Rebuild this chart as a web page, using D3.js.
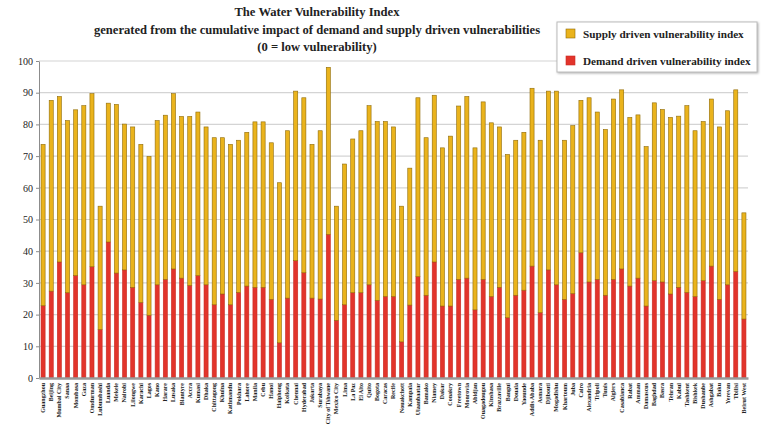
<!DOCTYPE html>
<html>
<head>
<meta charset="utf-8">
<script src="https://cdn.jsdelivr.net/npm/d3@7"></script>
<style>
  body { margin: 0; background: #fff; }
  text { font-family: "Liberation Serif", "Times New Roman", serif; }
</style>
</head>
<body>
<div id="chart"></div>
<script>
var cities = ["Guangzhou","Beijing","Mumbai City","Sanaa","Mombasa","Gaza","Omdurman","Lubumbashi","Luanda","Mekele",
  "Nairobi","Lilongwe","Karachi","Lagos","Kano","Harare","Lusaka","Blantyre","Accra","Kumasi",
  "Dhaka","Chittagong","Khulna","Kathmandu","Pokhara","Lahore","Manila","Cebu","Hanoi","Haiphong",
  "Kolkata","Chennai","Hyderabad","Jakarta","Surabaya","City of Tshwane","Mexico City","Lima","La Paz","El Alto",
  "Quito","Bogota","Caracas","Recife","Nouakchott","Kampala","Ulaanbaatar","Bamako","Niamey","Dakar",
  "Conakry","Freetown","Monrovia","Abidjan","Ouagadougou","Kinshasa","Brazzaville","Bangui","Douala","Yaounde",
  "Addis Ababa","Asmara","Djibouti","Mogadishu","Khartoum","Juba","Cairo","Alexandria","Tripoli","Tunis",
  "Algiers","Casablanca","Rabat","Amman","Damascus","Baghdad","Basra","Tehran","Kabul","Tashkent",
  "Bishkek","Dushanbe","Ashgabat","Baku","Yerevan","Tbilisi","Beirut West"];

var demand = [22.8,27.4,36.6,26.9,32.3,29.4,35.1,15.3,42.9,33.1,34.1,28.6,23.8,19.8,29.4,31.1,34.4,31.5,29.2,32.3,
  29.4,23.1,26.5,23.1,27.0,29.0,28.6,28.6,24.8,11.1,25.2,37.0,33.2,25.2,24.9,45.3,18.2,23.1,26.9,26.9,
  29.4,24.5,25.7,25.7,11.4,23.0,32.0,26.1,36.6,22.7,22.7,31.1,31.5,21.5,31.1,25.7,28.6,19.0,26.1,27.7,
  35.3,20.6,34.1,29.4,24.8,26.6,39.5,30.3,31.1,26.1,31.1,34.4,29.0,31.5,22.7,30.7,30.3,26.5,28.6,27.0,
  25.7,30.7,35.3,24.8,29.4,33.6,18.6];

var supply = [50.9,60.2,52.2,54.3,52.3,56.5,54.6,38.9,43.8,53.2,46.0,50.6,49.9,50.1,51.8,51.8,55.3,51.0,53.3,51.6,
  49.8,52.7,49.3,50.6,48.0,48.5,52.2,52.2,49.4,50.5,52.8,53.5,55.2,48.5,53.1,52.7,36.0,44.4,48.5,51.1,
  56.5,56.4,55.2,53.5,42.8,43.2,56.4,49.7,52.6,49.9,53.6,54.7,57.3,51.1,56.0,54.8,50.6,51.5,48.9,49.8,
  56.1,54.4,56.4,61.1,50.2,53.0,48.1,58.1,52.8,52.3,56.9,56.5,53.2,51.5,50.3,56.1,54.4,55.7,54.0,58.9,
  52.3,50.2,52.7,54.4,54.9,57.3,33.5];

var yTicks = [0,10,20,30,40,50,60,70,80,90,100];
var titleLines = ["The Water Vulnerability Index",
  "generated from the cumulative impact of demand and supply driven vulnerabilities",
  "(0 = low vulnerability)"];
var seriesNames = ["Supply driven vulnerability index", "Demand driven vulnerability index"];

var W = 767, H = 433;
var plot = {left: 39, right: 748, top: 61, bottom: 378};

var svg = d3.select("#chart").append("svg")
    .attr("width", W)
    .attr("height", H);

var table = cities.map(function(c, i) {
    return {name: c, demand: demand[i], supply: supply[i]};
});
var stacked = d3.stack().keys(["demand", "supply"])(table);

var x = d3.scaleBand()
    .domain(cities)
    .range([plot.left, plot.right])
    .paddingInner(0.5)
    .paddingOuter(0.25);

var y = d3.scaleLinear()
    .domain([0, 100])
    .range([plot.bottom, plot.top]);

// gridlines
svg.append("g")
    .selectAll("line")
    .data(yTicks.slice(1))
    .enter().append("line")
    .attr("x1", plot.left)
    .attr("x2", plot.right)
    .attr("y1", d => y(d))
    .attr("y2", d => y(d))
    .attr("stroke", "#d4d4d4")
    .attr("stroke-width", 1.2);

// Y axis
var yAxis = svg.append("g")
    .attr("transform", "translate(" + plot.left + ",0)")
    .call(d3.axisLeft(y).tickValues(yTicks).tickSize(3).tickSizeOuter(0));
yAxis.select(".domain").attr("stroke", "#8c8c8c");
yAxis.selectAll(".tick line").attr("stroke", "#8c8c8c");
yAxis.selectAll("text")
    .style("font-family", "Liberation Serif")
    .style("font-size", "10px")
    .attr("fill", "#222");

// bars
var colors = {demand: "#e2342b", supply: "#eab31c"};
var strokes = {demand: "#c92a22", supply: "#8f6b08"};

svg.append("g")
    .selectAll("g")
    .data(stacked)
    .enter().append("g")
    .attr("fill", d => colors[d.key])
    .attr("stroke", d => strokes[d.key])
    .attr("stroke-width", 0.6)
    .selectAll("rect")
    .data(d => d)
    .enter().append("rect")
    .attr("x", d => x(d.data.name))
    .attr("width", x.bandwidth())
    .attr("y", d => y(d[1]))
    .attr("height", d => y(d[0]) - y(d[1]));

// X axis
var xAxis = svg.append("g")
    .attr("transform", "translate(0," + plot.bottom + ")")
    .call(d3.axisBottom(x).tickSize(0).tickSizeOuter(0));
xAxis.select(".domain").attr("stroke", "#9a9a9a").attr("stroke-width", 2.5);
xAxis.selectAll("text")
    .style("font-family", "Liberation Serif")
    .style("font-size", "6px")
    .style("font-weight", "bold")
    .attr("fill", "#222")
    .attr("transform", "rotate(-90)")
    .attr("x", -5)
    .attr("y", 0)
    .attr("dy", "0.32em")
    .style("text-anchor", "end");

// title
svg.append("g")
    .selectAll("text")
    .data(titleLines)
    .enter().append("text")
    .attr("x", 317)
    .attr("y", (d, i) => 16 + i * 17.5)
    .attr("text-anchor", "middle")
    .style("font-size", "12.6px")
    .style("font-weight", "bold")
    .attr("fill", "#222")
    .text(d => d);

// legend
var legend = svg.append("g").attr("transform", "translate(557,22)");
legend.append("rect")
    .attr("width", 200)
    .attr("height", 50)
    .attr("fill", "#fff")
    .attr("stroke", "#bdbdbd")
    .attr("stroke-width", 1)
    .style("filter", "drop-shadow(1px 1px 1px rgba(0,0,0,0.3))");
var items = [{name: seriesNames[0], key: "supply"}, {name: seriesNames[1], key: "demand"}];
var li = legend.selectAll(".item")
    .data(items)
    .enter().append("g")
    .attr("transform", (d, i) => "translate(9," + (7 + i * 27) + ")");
li.append("rect")
    .attr("width", 9)
    .attr("height", 9)
    .attr("fill", d => colors[d.key])
    .attr("stroke", d => strokes[d.key])
    .attr("stroke-width", 0.6);
li.append("text")
    .attr("x", 17)
    .attr("y", 8.5)
    .style("font-size", "11.2px")
    .style("font-weight", "bold")
    .attr("fill", "#222")
    .text(d => d.name);
</script>
</body>
</html>
